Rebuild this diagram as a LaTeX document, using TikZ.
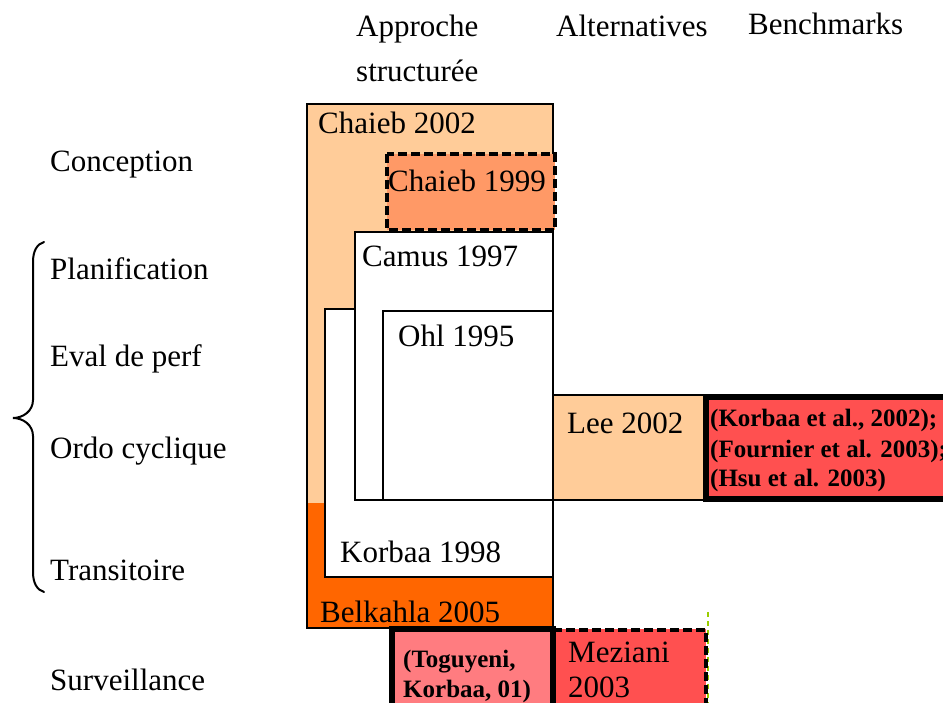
\documentclass[tikz,border=0pt]{standalone}
\usepackage{fontspec}
\setmainfont{Liberation Serif}
\definecolor{peach}{HTML}{FFCC99}
\definecolor{salmon}{HTML}{FF9966}
\definecolor{deeporange}{HTML}{FF6600}
\definecolor{redfill}{HTML}{FF5050}
\definecolor{pinkfill}{HTML}{FF7C80}
\definecolor{limeline}{HTML}{99CC00}
\begin{document}
\begin{tikzpicture}[x=1pt,y=-1pt,
  lbl/.style={anchor=base west, inner sep=0pt, font=\fontsize{31}{36}\selectfont},
  blbl/.style={anchor=base west, inner sep=0pt, font=\fontsize{25}{29}\selectfont\bfseries},
  thinbox/.style={draw=black, line width=2pt},
  dashbox/.style={draw=black, line width=4pt, dash pattern=on 9pt off 4pt},
  heavybox/.style={draw=black, line width=6pt},
]
\useasboundingbox (0,0) rectangle (943,703);
\clip (0,0) rectangle (943,703);

% column headings
\node[lbl] (hApp)  at (356,37) {Approche};
\node[lbl] (hStr)  at (356,82) {structurée};
\node[lbl] (hAlt)  at (556,37) {Alternatives};
\node[lbl] (hBen)  at (748,35) {Benchmarks};

% row headings
\node[lbl] (rConc) at (50,172) {Conception};
\node[lbl] (rPlan) at (50,280) {Planification};
\node[lbl] (rEval) at (50,367) {Eval de perf};
\node[lbl] (rOrdo) at (50,458) {Ordo cyclique};
\node[lbl] (rTran) at (50,580) {Transitoire};
\node[lbl] (rSurv) at (50,690) {Surveillance};

% curly brace grouping the middle rows
\draw[line width=2pt, line cap=round]
  (44,242) .. controls (37,244) and (33,251) .. (33,262) -- (33,400)
  .. controls (33,411) and (23,418) .. (13,418)
  .. controls (23,418) and (33,425) .. (33,436) -- (33,572)
  .. controls (33,583) and (37,590) .. (44,592);

% Chaieb 2002 / Belkahla 2005 outer block
\fill[peach] (307,104) rectangle (553,503);
\fill[deeporange] (307,503) rectangle (553,628);
\draw[thinbox] (307,104) rectangle (553,628);

% nested white blocks
\draw[thinbox, fill=white] (325,309) rectangle (553,577);
\draw[thinbox, fill=white] (355,232) rectangle (553,500);
\draw[thinbox, fill=white] (383,311) rectangle (553,500);

% Chaieb 1999 (dashed)
\draw[dashbox, fill=salmon] (387,154) rectangle (555,230);

% Lee 2002
\draw[thinbox, fill=peach] (553,395) rectangle (705,500);

% benchmark block
\draw[heavybox, fill=redfill] (706,397) rectangle (960,499);

% surveillance row
\fill[redfill] (553,629) rectangle (706,720);
\draw[limeline, line width=2pt, dash pattern=on 5pt off 4pt] (707.5,612) -- (707.5,703);
\draw[dashbox] (553,630) -- (706,630) -- (706,720);
\draw[heavybox, fill=pinkfill] (392,629) rectangle (553,720);

% box labels
\node[lbl] (tCh02) at (318,134) {Chaieb 2002};
\node[lbl] (tCh99) at (388,192) {Chaieb 1999};
\node[lbl] (tCam)  at (362,267) {Camus 1997};
\node[lbl] (tOhl)  at (398,347) {Ohl 1995};
\node[lbl] (tLee)  at (567,433) {Lee 2002};
\node[lbl] (tKor)  at (340,562) {Korbaa 1998};
\node[lbl] (tBel)  at (320,622) {Belkahla 2005};
\node[lbl] (tMez1) at (568,662) {Meziani};
\node[lbl] (tMez2) at (568,697) {2003};
\node[blbl] (tTog1) at (403,667) {(Toguyeni,};
\node[blbl] (tTog2) at (403,697) {Korbaa, 01)};
\node[blbl] (tB1) at (710,427) {(Korbaa et al., 2002);};
\node[blbl] (tB2) at (710,457) {(Fournier et al. 2003);};
\node[blbl] (tB3) at (710,486) {(Hsu et al. 2003)};
\end{tikzpicture}
\end{document}
